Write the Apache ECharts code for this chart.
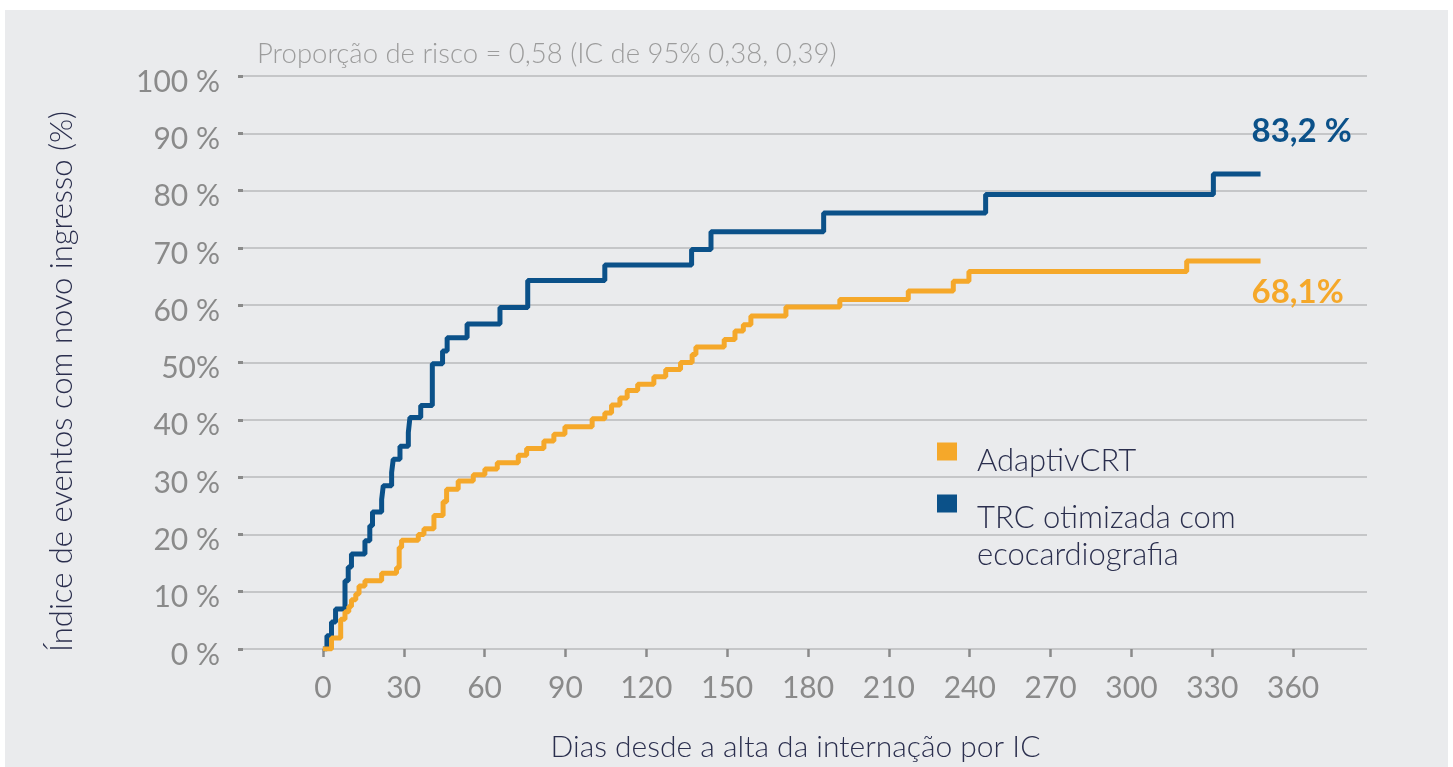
<!DOCTYPE html>
<html>
<head>
<meta charset="utf-8">
<script src="https://cdn.jsdelivr.net/npm/echarts@6/dist/echarts.min.js"></script>
<style>
  html, body { margin: 0; padding: 0; background: #ffffff; }
  #panel { position: absolute; left: 5px; top: 10px; width: 1443px; height: 757px; background: #eaebed; }
  #chart { position: absolute; left: 0; top: 0; width: 1453px; height: 767px; }
</style>
</head>
<body>
<div id="panel"></div>
<div id="chart"></div>
<script>
// days since discharge / cumulative event rate (%)
const trcDays = [0, 1.5, 3.2, 4.7, 8.2, 9.4, 10.6, 15.6, 17.4, 18.4, 21.8, 22.4, 25.5, 26.1, 28.6, 31.7, 32.3, 36.3, 40.6, 44.4, 46.1, 53.5, 65.7, 76.0, 104.6, 136.8, 144.0, 185.8, 245.9, 330.4, 347.9];
const trcRate = [0, 2.3, 4.7, 7.0, 11.9, 14.3, 16.6, 18.9, 21.5, 23.9, 26.1, 28.5, 30.8, 33.1, 35.4, 37.8, 40.4, 42.5, 49.8, 52.0, 54.3, 56.7, 59.6, 64.3, 67.0, 69.7, 72.8, 76.1, 79.3, 82.9, 82.9];

const adaptivDays = [0, 3.2, 6.6, 8.2, 9.6, 10.6, 12.2, 13.4, 15.6, 21.8, 27.3, 28.3, 29.2, 35.4, 37.5, 41.2, 44.6, 45.9, 50.2, 55.8, 60.1, 64.7, 72.5, 75.6, 82.0, 85.7, 89.8, 99.9, 104.6, 107.1, 110.2, 112.9, 116.8, 122.8, 127.2, 132.7, 137.0, 138.4, 148.9, 152.9, 156.0, 158.8, 171.8, 191.8, 217.2, 233.9, 239.7, 320.5, 347.9];
const adaptivRate = [0, 1.9, 5.2, 6.5, 7.4, 8.6, 9.6, 11.0, 11.9, 13.2, 14.2, 17.7, 19.0, 20.0, 21.0, 23.3, 25.7, 27.9, 29.3, 30.4, 31.4, 32.5, 33.8, 35.0, 36.3, 37.5, 38.8, 40.2, 41.2, 42.6, 43.8, 45.1, 46.2, 47.5, 48.8, 50.0, 51.4, 52.7, 54.0, 55.5, 56.6, 58.1, 59.7, 61.0, 62.5, 64.2, 65.9, 67.7, 67.7];

const xTicks = [0, 30, 60, 90, 120, 150, 180, 210, 240, 270, 300, 330, 360];
const yTickLabels = ['0 %', '10 %', '20 %', '30 %', '40 %', '50%', '60 %', '70 %', '80 %', '90 %', '100 %'];
const seriesNames = ['AdaptivCRT', 'TRC otimizada com ecocardiografia'];
const endLabels = ['68,1%', '83,2 %'];

const ORANGE = '#f5a82a';
const BLUE = '#0b5189';
const NAVY = '#2b2f4e';
const GREY = '#8a8a8a';
const FONT = 'Lato';

const pairs = (xs, ys) => xs.map((x, i) => [x, ys[i]]);

const chart = echarts.init(document.getElementById('chart'));

const legendText = { fontFamily: FONT, fontSize: 31, fontWeight: 300, color: NAVY };

const option = {
  animation: false,
  backgroundColor: 'transparent',
  textStyle: { fontFamily: FONT },
  title: {
    text: 'Proporção de risco = 0,58 (IC de 95% 0,38, 0,39)',
    left: 252,
    top: 35,
    textStyle: { fontFamily: FONT, fontSize: 27.5, fontWeight: 300, color: '#9c9c9c' }
  },
  grid: { left: 238, right: 86, top: 76, bottom: 117 },
  legend: [
    {
      data: [seriesNames[0]],
      left: 932,
      top: 422,
      icon: 'rect',
      itemWidth: 20,
      itemHeight: 18,
      formatter: () => '\nAdaptivCRT',
      textStyle: Object.assign({ lineHeight: 18, padding: [0, 0, 0, 15] }, legendText)
    },
    {
      data: [seriesNames[1]],
      left: 932,
      top: 446,
      icon: 'rect',
      itemWidth: 20,
      itemHeight: 18,
      // first (blank) line pushes the two text lines below the marker
      formatter: () => '{s| }\n{t|TRC otimizada com}\n{t|ecocardiografia}',
      textStyle: Object.assign({
        padding: [0, 0, 0, 15],
        rich: {
          s: { lineHeight: 65, fontSize: 31, fontFamily: FONT, fontWeight: 300, color: NAVY },
          t: { lineHeight: 37, fontSize: 31, fontFamily: FONT, fontWeight: 300, color: NAVY }
        }
      }, legendText)
    }
  ],
  xAxis: {
    type: 'value',
    min: -31.5,
    max: 387.4,
    offset: 5,
    name: 'Dias desde a alta da internação por IC',
    nameLocation: 'middle',
    nameGap: 78,
    nameTextStyle: { fontFamily: FONT, fontSize: 30, fontWeight: 300, color: NAVY, padding: [0, 14, 0, 0] },
    axisLine: { show: false },
    axisTick: { show: true, length: 8, customValues: xTicks, lineStyle: { color: GREY, width: 2.5 } },
    axisLabel: { customValues: xTicks, margin: 19, fontFamily: FONT, fontSize: 30, color: GREY },
    splitLine: { show: false }
  },
  yAxis: {
    type: 'value',
    min: 0,
    max: 100,
    interval: 10,
    name: 'Índice de eventos com novo ingresso (%)',
    nameLocation: 'middle',
    nameGap: 161,
    nameTextStyle: { fontFamily: FONT, fontSize: 31, fontWeight: 300, color: NAVY, padding: [0, 38, 0, 0] },
    axisLine: { show: false, onZero: false },
    axisTick: { show: true, inside: true, length: 5, lineStyle: { color: GREY, width: 3 } },
    axisLabel: {
      margin: 18,
      fontFamily: FONT,
      fontSize: 30,
      color: GREY,
      verticalAlign: 'top',
      lineHeight: 12,
      formatter: v => yTickLabels[Math.round(v / 10)]
    },
    splitLine: { lineStyle: { color: '#c5c6c8', width: 2 } }
  },
  series: [
    {
      name: seriesNames[1],
      type: 'line',
      step: 'end',
      data: pairs(trcDays, trcRate),
      symbol: 'none',
      color: BLUE,
      lineStyle: { width: 5, color: BLUE },
      endLabel: {
        show: true,
        formatter: () => endLabels[1],
        offset: [-17, -43],
        fontFamily: FONT,
        fontSize: 33,
        fontWeight: 'bold',
        color: BLUE
      },
      z: 2
    },
    {
      name: seriesNames[0],
      type: 'line',
      step: 'end',
      data: pairs(adaptivDays, adaptivRate),
      symbol: 'none',
      color: ORANGE,
      lineStyle: { width: 5, color: ORANGE },
      endLabel: {
        show: true,
        formatter: () => endLabels[0],
        offset: [-17, 31],
        fontFamily: FONT,
        fontSize: 33,
        fontWeight: 'bold',
        color: ORANGE
      },
      z: 3
    }
  ]
};

chart.setOption(option);
</script>
</body>
</html>
